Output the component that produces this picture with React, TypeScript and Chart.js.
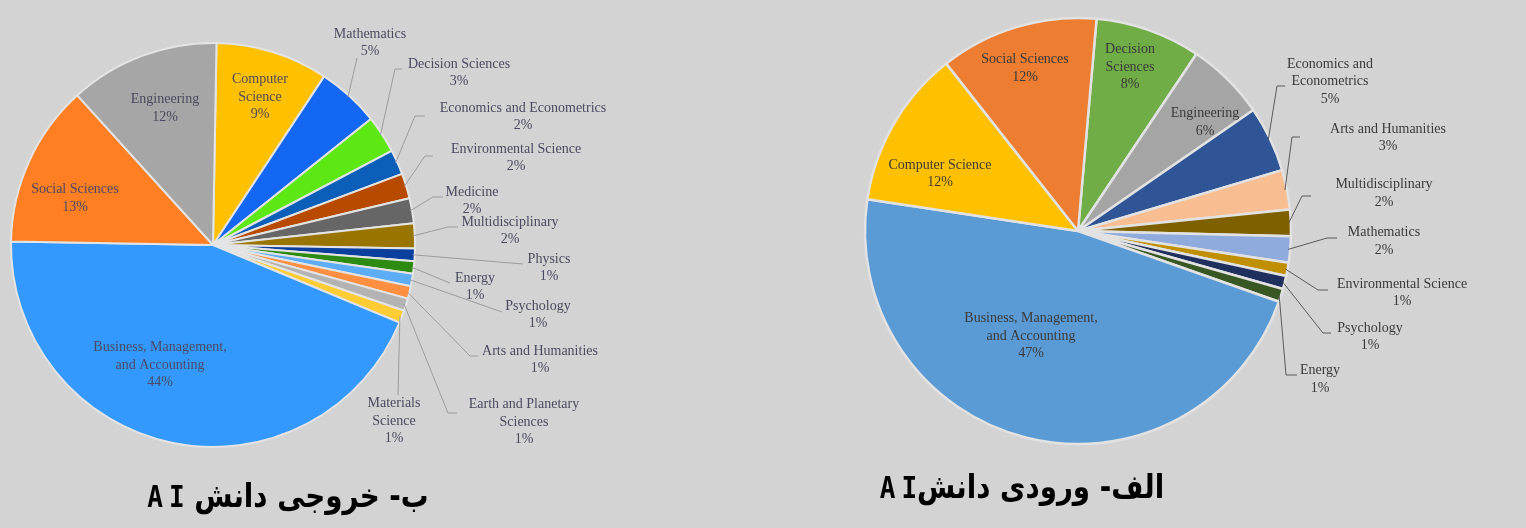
import React, { useEffect, useRef } from "react";
import { Chart, registerables } from "chart.js";

Chart.register(...registerables);

// ---------- Data: output (left pie, "ب") ----------
const outputCategories = [
  "Computer Science",
  "Mathematics",
  "Decision Sciences",
  "Economics and Econometrics",
  "Environmental Science",
  "Medicine",
  "Multidisciplinary",
  "Physics",
  "Energy",
  "Psychology",
  "Arts and Humanities",
  "Earth and Planetary Sciences",
  "Materials Science",
  "Business, Management, and Accounting",
  "Social Sciences",
  "Engineering",
];
const outputValues = [9, 5, 3, 2, 2, 2, 2, 1, 1, 1, 1, 1, 1, 44, 13, 12];
const outputColors = [
  "#ffc000", "#1467f2", "#5de814", "#0b5fb8", "#b84a00", "#666666", "#9a7400",
  "#0a3f9e", "#2e8b12", "#5cadf5", "#ff8f40", "#b3b3b3", "#ffcc33", "#3399ff",
  "#ff7f22", "#a6a6a6",
];

// ---------- Data: input (right pie, "الف") ----------
const inputCategories = [
  "Decision Sciences",
  "Engineering",
  "Economics and Econometrics",
  "Arts and Humanities",
  "Multidisciplinary",
  "Mathematics",
  "Environmental Science",
  "Psychology",
  "Energy",
  "Business, Management, and Accounting",
  "Computer Science",
  "Social Sciences",
];
const inputValues = [8, 6, 5, 3, 2, 2, 1, 1, 1, 47, 12, 12];
const inputColors = [
  "#70ad47", "#a5a5a5", "#2f5597", "#f8bd90", "#7f6000", "#8faadc", "#bf8f00",
  "#1f2f5e", "#385723", "#5b9bd5", "#ffc000", "#ed7d31",
];

const outputTitle = "ب- خروجی دانش ";
const inputTitle = "الف- ورودی دانش";
const titleLatin = "AI";

// ---------- Label layout (relative to pie centre) ----------
type Spec = { lines: string[]; dx: number; dy: number; path?: [number, number][] };

const outputLabelLayout: Spec[] = [
  { lines: ["Computer", "Science"], dx: 47, dy: -148 },
  { lines: ["Mathematics"], dx: 157, dy: -202, path: [[144, -187]] },
  { lines: ["Decision Sciences"], dx: 246, dy: -172, path: [[182, -176], [189, -176]] },
  { lines: ["Economics and Econometrics"], dx: 310, dy: -128, path: [[202, -129], [212, -129]] },
  { lines: ["Environmental Science"], dx: 303, dy: -87, path: [[212, -89], [220, -89]] },
  { lines: ["Medicine"], dx: 259, dy: -44, path: [[220, -48], [230, -48]] },
  { lines: ["Multidisciplinary"], dx: 297, dy: -14, path: [[235, -18], [245, -18]] },
  { lines: ["Physics"], dx: 336, dy: 23, path: [[310, 19]] },
  { lines: ["Energy"], dx: 262, dy: 42, path: [[237, 38]] },
  { lines: ["Psychology"], dx: 325, dy: 70, path: [[289, 67]] },
  { lines: ["Arts and Humanities"], dx: 327, dy: 115, path: [[257, 111], [265, 111]] },
  { lines: ["Earth and Planetary", "Sciences"], dx: 311, dy: 177, path: [[235, 168], [244, 168]] },
  { lines: ["Materials", "Science"], dx: 181, dy: 176, path: [[185, 150]] },
  { lines: ["Business, Management,", "and Accounting"], dx: -53, dy: 120 },
  { lines: ["Social Sciences"], dx: -138, dy: -46.5 },
  { lines: ["Engineering"], dx: -48, dy: -136.5 },
];

const inputLabelLayout: Spec[] = [
  { lines: ["Decision", "Sciences"], dx: 52, dy: -164 },
  { lines: ["Engineering"], dx: 127, dy: -108.5 },
  { lines: ["Economics and", "Econometrics"], dx: 252, dy: -149.5, path: [[199, -145], [207, -145]] },
  { lines: ["Arts and Humanities"], dx: 310, dy: -93, path: [[214, -94], [222, -94]] },
  { lines: ["Multidisciplinary"], dx: 306, dy: -37.5, path: [[224, -35], [233, -35]] },
  { lines: ["Mathematics"], dx: 306, dy: 10.5, path: [[249, 7], [259, 7]] },
  { lines: ["Environmental Science"], dx: 324, dy: 62, path: [[240, 59], [250, 59]] },
  { lines: ["Psychology"], dx: 292, dy: 106, path: [[245, 102], [253, 102]] },
  { lines: ["Energy"], dx: 242, dy: 148.5, path: [[208, 144], [219, 144]] },
  { lines: ["Business, Management,", "and Accounting"], dx: -47, dy: 105 },
  { lines: ["Computer Science"], dx: -138, dy: -57 },
  { lines: ["Social Sciences"], dx: -53, dy: -162.5 },
];

function makeLabelPlugin(specs: Spec[], textColor: string, lineColor: string, lineH: number) {
  return {
    id: "sliceLabels",
    afterDraw(chart: any) {
      const ctx = chart.ctx as CanvasRenderingContext2D;
      const meta = chart.getDatasetMeta(0);
      const values = chart.data.datasets[0].data as number[];
      ctx.save();
      meta.data.forEach((arc: any, i: number) => {
        const s = specs[i];
        if (!s) return;
        const p = arc.getProps(["x", "y", "startAngle", "endAngle", "outerRadius"], true);
        const mid = (p.startAngle + p.endAngle) / 2;
        if (s.path) {
          ctx.beginPath();
          ctx.strokeStyle = lineColor;
          ctx.lineWidth = 1;
          ctx.moveTo(p.x + Math.cos(mid) * (p.outerRadius - 2), p.y + Math.sin(mid) * (p.outerRadius - 2));
          s.path.forEach(([px, py]) => ctx.lineTo(p.x + px, p.y + py));
          ctx.stroke();
        }
        const lines = [...s.lines, `${values[i]}%`];
        ctx.fillStyle = textColor;
        ctx.font = '14px "Liberation Serif", "DejaVu Serif", serif';
        ctx.textAlign = "center";
        ctx.textBaseline = "middle";
        const n = lines.length;
        lines.forEach((t, k) => {
          ctx.fillText(t, p.x + s.dx, p.y + s.dy + (k - (n - 1) / 2) * lineH);
        });
      });
      ctx.restore();
    },
  };
}

function PieCanvas(props: {
  left: number; width: number; height: number;
  cx: number; cy: number; radius: number; rotation: number;
  labels: string[]; values: number[]; colors: string[];
  borderColor: string; borderWidth: number;
  specs: Spec[]; textColor: string; lineColor: string;
}) {
  const ref = useRef<HTMLCanvasElement>(null);
  useEffect(() => {
    if (!ref.current) return;
    const chart = new Chart(ref.current, {
      type: "pie",
      data: {
        labels: props.labels,
        datasets: [{
          data: props.values,
          backgroundColor: props.colors,
          borderColor: props.borderColor,
          borderWidth: props.borderWidth,
        }],
      },
      options: {
        responsive: false,
        animation: false,
        rotation: props.rotation,
        radius: props.radius,
        layout: {
          padding: {
            left: 0,
            top: 0,
            right: props.width - 2 * props.cx,
            bottom: props.height - 2 * props.cy,
          },
        },
        plugins: {
          legend: { display: false },
          tooltip: { enabled: false },
        },
      },
      plugins: [makeLabelPlugin(props.specs, props.textColor, props.lineColor, 17.5)],
    });
    return () => chart.destroy();
  }, []);
  return (
    <canvas
      ref={ref}
      width={props.width}
      height={props.height}
      style={{ position: "absolute", left: props.left, top: 0, width: props.width, height: props.height }}
    />
  );
}

export default function App() {
  const titleStyle: React.CSSProperties = {
    position: "absolute",
    fontFamily: '"DejaVu Sans", sans-serif',
    fontWeight: "bold",
    fontSize: 33,
    color: "#000",
    textAlign: "center",
    whiteSpace: "nowrap",
    lineHeight: "40px",
    width: 400,
    transform: "scaleX(0.84)",
  };
  const latinStyle: React.CSSProperties = {
    fontFamily: '"DejaVu Sans Mono", monospace',
    fontWeight: "bold",
    letterSpacing: 7,
    marginRight: -7,
    unicodeBidi: "isolate",
    direction: "ltr",
    display: "inline-block",
    fontSize: 31,
  };
  return (
    <div style={{ position: "absolute", left: 0, top: 0, width: 1526, height: 528, background: "#d3d3d3", overflow: "hidden" }}>
      <PieCanvas
        left={0} width={760} height={528}
        cx={213} cy={245} radius={202} rotation={1}
        labels={outputCategories} values={outputValues} colors={outputColors}
        borderColor="#e4e4e4" borderWidth={2}
        specs={outputLabelLayout} textColor="#4a4a60" lineColor="#9c9c9c"
      />
      <PieCanvas
        left={760} width={766} height={528}
        cx={318} cy={231} radius={213} rotation={5}
        labels={inputCategories} values={inputValues} colors={inputColors}
        borderColor="#e2e2e2" borderWidth={2.5}
        specs={inputLabelLayout} textColor="#3a3a3a" lineColor="#5a5a5a"
      />
      <div dir="rtl" style={{ ...titleStyle, left: 88, top: 476 }}>
        {outputTitle}<span style={latinStyle}>{titleLatin}</span>
      </div>
      <div dir="rtl" style={{ ...titleStyle, left: 822, top: 467 }}>
        {inputTitle}<span style={latinStyle}>{titleLatin}</span>
      </div>
    </div>
  );
}
